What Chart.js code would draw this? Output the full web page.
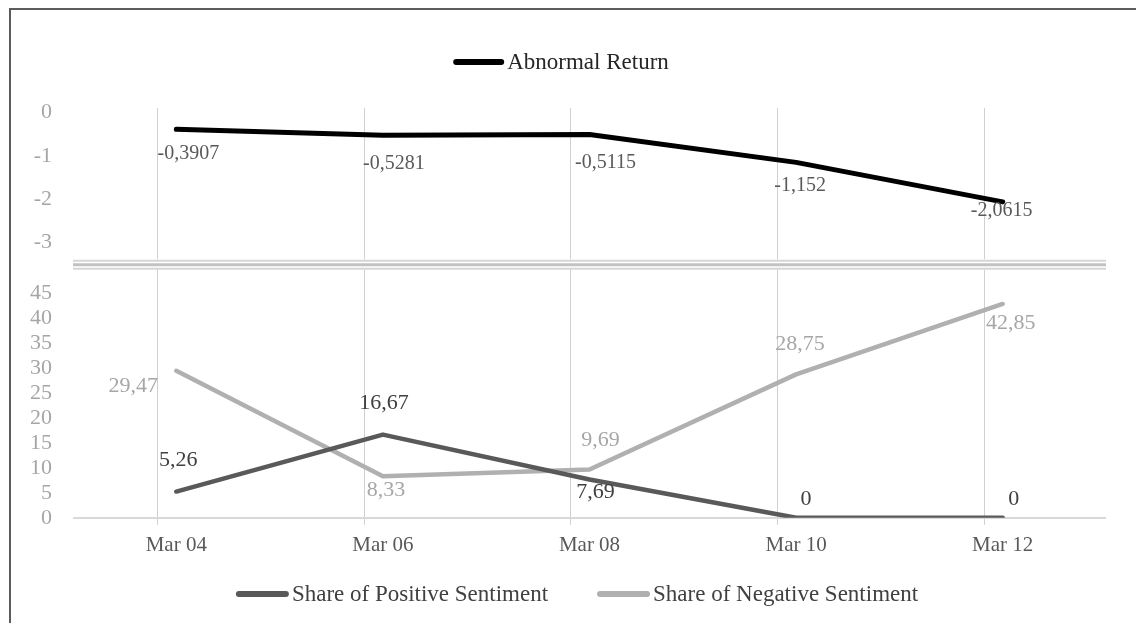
<!DOCTYPE html>
<html>
<head>
<meta charset="utf-8">
<script src="https://cdn.jsdelivr.net/npm/chart.js@4/dist/chart.umd.min.js"></script>
<style>
  html, body { margin: 0; padding: 0; background: #fff; }
  #wrap { position: relative; width: 1136px; height: 623px; overflow: hidden; background: #fff; }
  #frame { position: absolute; left: 9px; top: 8px; right: -10px; bottom: -10px;
           border-top: 2px solid #5c5c5c; border-left: 2px solid #5c5c5c; pointer-events: none; }
  canvas { position: absolute; left: 0; top: 0; }
</style>
</head>
<body>
<div id="wrap">
  <canvas id="chart" width="1136" height="623"></canvas>
  <div id="frame"></div>
</div>
<script>
// ---- data ----
const days = ['Mar 04', 'Mar 06', 'Mar 08', 'Mar 10', 'Mar 12'];
const abnormalReturn = [-0.3907, -0.5281, -0.5115, -1.152, -2.0615];
const positiveShare = [5.26, 16.67, 7.69, 0, 0];
const negativeShare = [29.47, 8.33, 9.69, 28.75, 42.85];
const returnTicks = [0, -1, -2, -3];
const shareTicks = [0, 5, 10, 15, 20, 25, 30, 35, 40, 45];

// ---- styling ----
const SERIF = "'Liberation Serif', 'Times New Roman', serif";

// value label offsets (text centre relative to the point), in px
const returnLabelOffsets = [[12, 24], [11, 28], [16, 28], [4, 23], [-1, 9]];
const positiveLabelOffsets = [[2, -31], [1, -31], [6, 13], [10, -19], [11, -19]];
const negativeLabelOffsets = [[-43, 15], [3, 14], [11, -29], [4, -30], [8, 19]];

const decimalComma = v => String(v).replace('.', ',');

// Writes each point's value next to it
const valueLabels = {
  id: 'valueLabels',
  afterDatasetsDraw(chart) {
    const ctx = chart.ctx;
    chart.data.datasets.forEach((ds, i) => {
      const meta = chart.getDatasetMeta(i);
      ctx.save();
      ctx.font = ds.valueFont;
      ctx.fillStyle = ds.valueColor;
      ctx.textAlign = 'center';
      ctx.textBaseline = 'middle';
      meta.data.forEach((pt, j) => {
        const [dx, dy] = ds.valueOffsets[j];
        ctx.fillText(decimalComma(ds.data[j]), pt.x + dx, pt.y + dy);
      });
      ctx.restore();
    });
  }
};

// Axis-break marker between the return panel and the sentiment panel
const axisBreak = {
  id: 'axisBreak',
  beforeDatasetsDraw(chart) {
    const ctx = chart.ctx;
    const area = chart.chartArea;
    const y = chart.scales.yA.bottom;
    ctx.save();
    ctx.fillStyle = '#ffffff';
    ctx.fillRect(area.left, y - 5, area.right - area.left, 10);
    const lines = [[-3.5, 2, '#d6d6d6'], [0.5, 3, '#c2c2c2'], [4.5, 2, '#d6d6d6']];
    lines.forEach(([off, w, c]) => {
      ctx.strokeStyle = c;
      ctx.lineWidth = w;
      ctx.beginPath();
      ctx.moveTo(area.left, y + off);
      ctx.lineTo(area.right, y + off);
      ctx.stroke();
    });
    ctx.restore();
  }
};

// Two legend rows: one above the chart, one below it
const legendRows = {
  id: 'legendRows',
  afterDraw(chart, args, opts) {
    const ctx = chart.ctx;
    opts.rows.forEach(row => {
      const items = chart.data.datasets.filter(d => d.legendRow === row.name);
      ctx.save();
      ctx.font = row.font;
      ctx.textBaseline = 'middle';
      ctx.textAlign = 'left';
      const widths = items.map(d => row.swatch + row.gap + ctx.measureText(d.label).width);
      const total = widths.reduce((a, b) => a + b, 0) + row.spacing * (items.length - 1);
      let x = row.centerX - total / 2;
      items.forEach((d, k) => {
        ctx.strokeStyle = d.borderColor;
        ctx.lineWidth = 6;
        ctx.lineCap = 'round';
        ctx.beginPath();
        ctx.moveTo(x + 3, row.y);
        ctx.lineTo(x + row.swatch - 3, row.y);
        ctx.stroke();
        ctx.fillStyle = row.color;
        ctx.fillText(d.label, x + row.swatch + row.gap, row.y + 1);
        x += widths[k] + row.spacing;
      });
      ctx.restore();
    });
  }
};

const fixedWidth = w => scale => { scale.width = w; };

new Chart(document.getElementById('chart'), {
  type: 'line',
  data: {
    labels: days,
    datasets: [
      {
        label: 'Share of Positive Sentiment',
        data: positiveShare,
        yAxisID: 'yS',
        borderColor: '#595959',
        borderWidth: 4.5,
        legendRow: 'bottom',
        valueFont: '22px ' + SERIF,
        valueColor: '#404040',
        valueOffsets: positiveLabelOffsets
      },
      {
        label: 'Share of Negative Sentiment',
        data: negativeShare,
        yAxisID: 'yS',
        borderColor: '#b0b0b0',
        borderWidth: 4.5,
        legendRow: 'bottom',
        valueFont: '22px ' + SERIF,
        valueColor: '#a6a6a6',
        valueOffsets: negativeLabelOffsets
      },
      {
        label: 'Abnormal Return',
        data: abnormalReturn,
        yAxisID: 'yA',
        borderColor: '#000000',
        borderWidth: 5,
        legendRow: 'top',
        valueFont: '20px ' + SERIF,
        valueColor: '#595959',
        valueOffsets: returnLabelOffsets
      }
    ]
  },
  options: {
    responsive: false,
    animation: false,
    events: [],
    layout: { padding: { top: 108, right: 30, bottom: 65, left: 0 } },
    elements: {
      point: { radius: 0, hoverRadius: 0 },
      line: { tension: 0, borderCapStyle: 'round', borderJoinStyle: 'round', fill: false }
    },
    scales: {
      x: {
        type: 'category',
        position: 'bottom',
        weight: 1,
        offset: true,
        grid: { display: false },
        border: { display: false },
        ticks: { color: '#595959', font: { family: SERIF, size: 21 }, padding: 0, maxRotation: 0 }
      },
      xg: {
        type: 'linear',
        position: 'bottom',
        weight: 0,
        min: -0.41,
        max: 4.59,
        afterBuildTicks: s => { s.ticks = days.map((d, i) => ({ value: i })); },
        grid: { color: '#d0d0d0', lineWidth: 1, drawTicks: true, tickLength: 7 },
        border: { display: false },
        ticks: { display: false }
      },
      yS: {
        type: 'linear',
        position: 'left',
        stack: 'panels',
        stackWeight: 253,
        min: 0,
        max: 50.8,
        afterBuildTicks: s => { s.ticks = shareTicks.map(v => ({ value: v })); },
        afterFit: fixedWidth(73),
        grid: {
          drawTicks: false,
          color: c => (c.tick && c.tick.value === 0 ? '#d9d9d9' : 'rgba(0,0,0,0)'),
          lineWidth: 2
        },
        border: { display: false },
        ticks: { color: '#a6a6a6', font: { family: SERIF, size: 22 }, padding: 21, autoSkip: false }
      },
      yA: {
        type: 'linear',
        position: 'left',
        stack: 'panels',
        stackWeight: 156,
        min: -3.5,
        max: 0.1,
        afterBuildTicks: s => { s.ticks = returnTicks.map(v => ({ value: v })); },
        afterFit: fixedWidth(73),
        grid: { display: false, drawTicks: false },
        border: { display: false },
        ticks: { color: '#a6a6a6', font: { family: SERIF, size: 22 }, padding: 21, autoSkip: false }
      }
    },
    plugins: {
      legend: { display: false },
      tooltip: { enabled: false },
      legendRows: {
        rows: [
          { name: 'top', y: 62, centerX: 561, swatch: 51, gap: 3, spacing: 49, font: '23px ' + SERIF, color: '#262626' },
          { name: 'bottom', y: 594, centerX: 577, swatch: 53, gap: 3, spacing: 49, font: '23px ' + SERIF, color: '#404040' }
        ]
      }
    }
  },
  plugins: [axisBreak, valueLabels, legendRows]
});
</script>
</body>
</html>
